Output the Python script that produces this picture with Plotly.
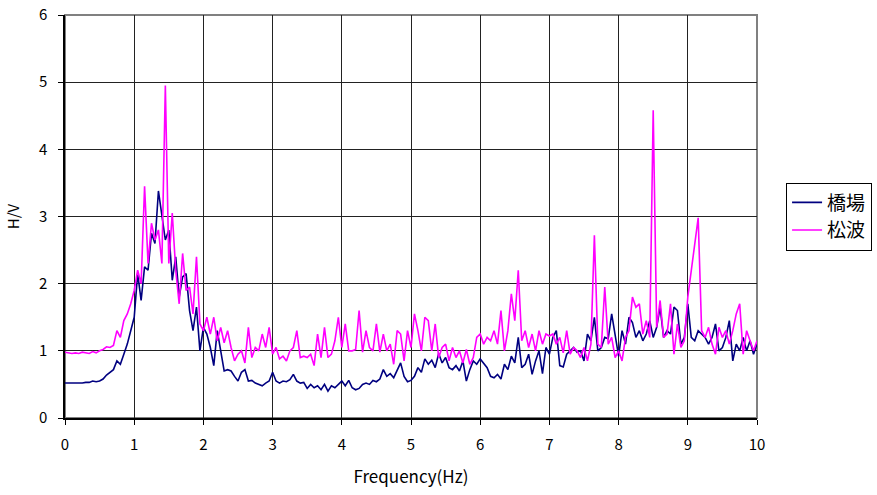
import plotly.graph_objects as go

freq_step = 0.05
hashiba = [
    0.52, 0.52, 0.51, 0.52, 0.52, 0.52, 0.53, 0.53, 0.55, 0.54,
    0.55, 0.58, 0.64, 0.68, 0.72, 0.85, 0.80, 0.95, 1.10, 1.30,
    1.50, 2.15, 1.75, 2.25, 2.20, 2.75, 2.60, 3.38, 3.00, 2.65,
    2.80, 2.05, 2.40, 1.80, 2.10, 2.15, 1.60, 1.30, 1.65, 1.00,
    1.35, 1.25, 1.05, 0.78, 1.30, 1.00, 0.70, 0.72, 0.70, 0.62,
    0.55, 0.68, 0.72, 0.55, 0.56, 0.52, 0.50, 0.48, 0.52, 0.55,
    0.68, 0.55, 0.52, 0.55, 0.54, 0.57, 0.65, 0.55, 0.52, 0.53,
    0.44, 0.50, 0.45, 0.48, 0.42, 0.50, 0.40, 0.48, 0.45, 0.50,
    0.55, 0.48, 0.56, 0.45, 0.42, 0.44, 0.50, 0.52, 0.50, 0.56,
    0.54, 0.58, 0.72, 0.62, 0.66, 0.60, 0.70, 0.82, 0.62, 0.54,
    0.56, 0.62, 0.75, 0.68, 0.88, 0.80, 0.86, 0.75, 0.96, 0.82,
    0.90, 0.75, 0.72, 0.78, 0.70, 0.85, 0.55, 0.72, 0.85, 0.80,
    0.88, 0.82, 0.75, 0.62, 0.60, 0.65, 0.58, 0.80, 0.72, 0.92,
    0.82, 1.20, 0.75, 0.80, 0.95, 0.65, 0.85, 1.00, 0.66, 1.05,
    0.95, 1.20, 1.30, 0.78, 0.76, 0.95, 1.00, 1.05, 0.98, 1.00,
    0.85, 1.25, 1.15, 1.50, 1.00, 1.05, 1.20, 1.18, 1.55, 1.20,
    0.92, 1.30, 1.10, 1.50, 1.42, 1.20, 1.30, 1.15, 1.25, 1.45,
    1.20, 1.35, 1.65, 1.20, 1.30, 1.25, 1.65, 1.60, 1.10, 1.20,
    1.70, 1.20, 1.15, 1.30, 1.25, 1.20, 1.10, 1.20, 1.40, 1.00,
    1.05, 1.20, 1.45, 0.85, 1.10, 1.00, 1.20, 1.00, 1.15, 0.95,
    1.10,
]
matsunami = [
    0.98, 0.97, 0.96, 0.97, 0.96, 0.98, 0.97, 0.96, 0.99, 0.97,
    1.00, 1.02, 1.06, 1.05, 1.08, 1.30, 1.20, 1.45, 1.55, 1.70,
    1.90, 2.20, 2.00, 3.45, 2.30, 2.90, 2.65, 2.80, 2.30, 4.95,
    2.30, 3.05, 2.20, 1.70, 2.45, 1.90, 1.95, 1.55, 2.40, 1.40,
    1.30, 1.50, 1.25, 1.50, 1.15, 1.35, 1.12, 1.30, 1.05, 0.85,
    0.95, 1.00, 0.82, 1.35, 0.90, 1.05, 1.00, 1.25, 1.05, 1.35,
    0.95, 1.05, 0.88, 0.92, 0.85, 1.00, 1.05, 1.30, 0.90, 0.92,
    0.90, 0.95, 0.78, 1.25, 0.90, 1.35, 0.90, 0.95, 1.15, 1.50,
    1.05, 1.40, 1.00, 1.00, 1.02, 1.60, 0.98, 1.30, 1.05, 1.00,
    1.40, 0.98, 1.25, 1.00, 1.10, 0.80, 1.30, 1.25, 0.85, 1.30,
    1.05, 1.55, 1.30, 1.00, 1.50, 1.45, 1.00, 1.40, 0.90, 1.05,
    1.10, 0.85, 1.05, 0.90, 1.00, 0.82, 1.02, 0.80, 0.90, 1.20,
    1.25, 1.10, 1.20, 1.15, 1.30, 1.10, 1.60, 1.00, 1.30, 1.85,
    1.45, 2.20, 1.15, 1.30, 1.05, 1.25, 1.00, 1.30, 1.10, 1.25,
    1.22, 1.25, 1.10, 1.20, 0.97, 1.30, 0.95, 1.05, 1.00, 0.90,
    1.05, 0.85, 1.10, 2.72, 1.10, 1.05, 1.95, 1.10, 1.20, 0.90,
    1.00, 0.85, 1.20, 1.30, 1.80, 1.65, 1.70, 1.25, 1.45, 1.20,
    4.58, 1.35, 1.75, 1.20, 1.25, 1.70, 0.95, 1.40, 1.05, 1.15,
    1.80, 2.20, 2.60, 2.98, 1.30, 1.20, 1.35, 1.10, 0.95, 1.35,
    1.20, 1.30, 1.10, 1.30, 1.55, 1.70, 0.95, 1.30, 1.15, 1.00,
    1.15,
]
freqs = [round(i * freq_step, 2) for i in range(len(hashiba))]
series_names = ["橋場", "松波"]
x_ticks = list(range(0, 11))
y_ticks = list(range(0, 7))

FONT = "Noto Sans CJK JP"

fig = go.Figure()
fig.add_trace(go.Scatter(x=freqs, y=hashiba, mode="lines", name=series_names[0],
                         line=dict(color="#000080", width=1.6)))
fig.add_trace(go.Scatter(x=freqs, y=matsunami, mode="lines", name=series_names[1],
                         line=dict(color="#FF00FF", width=1.6)))

fig.update_layout(
    width=877, height=495,
    margin=dict(l=65, r=120, t=15, b=77, autoexpand=False),
    paper_bgcolor="white", plot_bgcolor="white",
    font=dict(family=FONT, size=15, color="black"),
    showlegend=True,
    legend=dict(x=1.042, xanchor="left", y=0.50, yanchor="middle",
                bordercolor="black", borderwidth=1, bgcolor="white",
                font=dict(size=19, family=FONT), tracegroupgap=2),
    xaxis=dict(range=[0, 10], tickvals=x_ticks, showgrid=True, gridcolor="#222222",
               gridwidth=1, showline=True, linecolor="black", linewidth=1.5,
               ticks="outside", ticklen=5, tickcolor="black", zeroline=False,
               automargin=False, ticklabelstandoff=7, ticklabeloverflow="allow",
               title=dict(text="Frequency(Hz)", font=dict(size=17), standoff=18),
               tickfont=dict(size=15)),
    yaxis=dict(range=[0, 6], tickvals=y_ticks, showgrid=True, gridcolor="#222222",
               gridwidth=1, showline=True, linecolor="black", linewidth=1.5,
               ticks="outside", ticklen=5, tickcolor="black", zeroline=False,
               automargin=False, ticklabelstandoff=8, ticklabeloverflow="allow",
               title=dict(text="H/V", font=dict(size=15), standoff=16),
               tickfont=dict(size=15)),
)
fig.add_shape(type="rect", xref="paper", yref="paper", x0=0, y0=0, x1=1, y1=1,
              line=dict(color="#808080", width=2), layer="below")

fig.write_html("out.html", config={"displayModeBar": False},
               post_script="document.body.style.margin='0px';")
